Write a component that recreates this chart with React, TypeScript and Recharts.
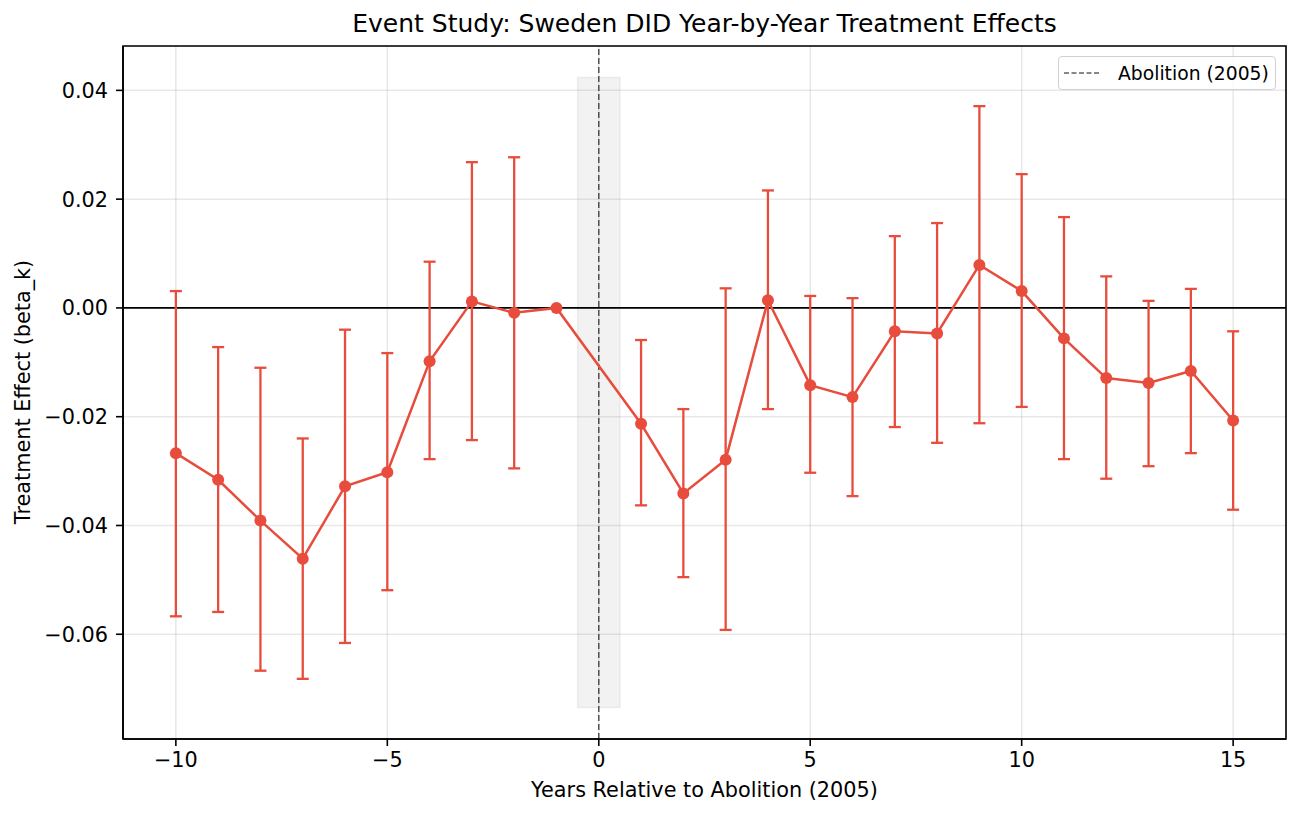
import React from 'react';
import {
  ComposedChart, Line, ErrorBar, XAxis, YAxis, CartesianGrid,
  ReferenceArea, ReferenceLine,
} from 'recharts';

const years = [-10, -9, -8, -7, -6, -5, -4, -3, -2, -1, 1, 2, 3, 4, 5, 6, 7, 8, 9, 10, 11, 12, 13, 14, 15];
const beta = [
  -0.0267, -0.0316, -0.0391, -0.0461, -0.0328, -0.0302, -0.0098, 0.0012, -0.0009, 0.0,
  -0.0213, -0.0341, -0.0279, 0.0014, -0.0142, -0.0164, -0.0043, -0.0047, 0.0079, 0.0031,
  -0.0056, -0.0129, -0.0138, -0.0116, -0.0207,
];
const ciLower = [
  -0.0567, -0.0559, -0.0667, -0.0682, -0.0616, -0.0519, -0.0278, -0.0243, -0.0295, null,
  -0.0363, -0.0495, -0.0592, -0.0186, -0.0303, -0.0346, -0.0219, -0.0248, -0.0212, -0.0182,
  -0.0278, -0.0314, -0.0291, -0.0267, -0.0371,
];
const ciUpper = [
  0.0031, -0.0072, -0.0110, -0.0240, -0.0040, -0.0083, 0.0085, 0.0268, 0.0277, null,
  -0.0059, -0.0186, 0.0036, 0.0216, 0.0022, 0.0018, 0.0132, 0.0156, 0.0371, 0.0246,
  0.0167, 0.0058, 0.0013, 0.0035, -0.0043,
];
const xTicks = [-10, -5, 0, 5, 10, 15];
const yTicks = [-0.06, -0.04, -0.02, 0, 0.02, 0.04];

const RED = '#e74c3c';
const FONT = '"DejaVu Sans", sans-serif';

const data = years.map((k, i) => ({
  k,
  beta: beta[i],
  err: ciLower[i] == null ? null : [beta[i] - (ciLower[i] as number), (ciUpper[i] as number) - beta[i]],
}));

const lows = ciLower.filter((v) => v != null) as number[];
const highs = ciUpper.filter((v) => v != null) as number[];
const lo = Math.min(...lows);
const hi = Math.max(...highs);
const pad1 = 0.05 * (hi - lo);
const shadeLo = lo - pad1;
const shadeHi = hi + pad1;
const pad2 = 0.05 * (shadeHi - shadeLo);
const yDomain: [number, number] = [shadeLo - pad2, shadeHi + pad2];
const xPad = 0.05 * (years[years.length - 1] - years[0]);
const xDomain: [number, number] = [years[0] - xPad, years[years.length - 1] + xPad];

const fmt = (v: number, d: number) => (v < 0 ? '\u2212' : '') + Math.abs(v).toFixed(d);

const LegendBox = () => (
  <div
    style={{
      position: 'absolute',
      left: 1058,
      top: 56,
      boxSizing: 'border-box',
      width: 218,
      height: 34,
      border: '1px solid #d0d0d0',
      borderRadius: 4,
      background: 'rgba(255,255,255,0.8)',
      display: 'flex',
      alignItems: 'center',
      fontFamily: FONT,
      fontSize: 18.75,
      color: '#000',
    }}
  >
    <svg width={59} height={20} style={{ flex: 'none' }}>
      <line x1={5} y1={10} x2={42} y2={10} stroke="#444" strokeOpacity={0.85} strokeWidth={1.5} strokeDasharray="5 2.5" />
    </svg>
    <span style={{ whiteSpace: 'nowrap' }}>Abolition (2005)</span>
  </div>
);

export default function App() {
  return (
    <div style={{ position: 'absolute', left: 0, top: 0, width: 1300, height: 817, background: '#fff', fontFamily: FONT }}>
      <div
        style={{
          position: 'absolute', left: 123, width: 1163, top: 9, textAlign: 'center',
          fontSize: 25, lineHeight: '30px', color: '#000', whiteSpace: 'nowrap',
        }}
      >
        Event Study: Sweden DID Year-by-Year Treatment Effects
      </div>
      <div
        style={{
          position: 'absolute', left: 123, width: 1163, top: 777, textAlign: 'center',
          fontSize: 20.8, lineHeight: '26px', color: '#000', whiteSpace: 'nowrap',
        }}
      >
        Years Relative to Abolition (2005)
      </div>
      <div
        style={{
          position: 'absolute', left: 23 - 200, top: 392 - 13, width: 400, height: 26, textAlign: 'center',
          fontSize: 20.8, lineHeight: '26px', color: '#000', whiteSpace: 'nowrap',
          transform: 'rotate(-90deg)', transformOrigin: '200px 13px',
        }}
      >
        Treatment Effect (beta_k)
      </div>
      <div style={{ position: 'absolute', left: 0, top: 0 }}>
        <ComposedChart width={1300} height={817} data={data} margin={{ top: 46, right: 14, bottom: 38, left: 0 }}>
          <CartesianGrid stroke="#b3b3b3" strokeOpacity={0.3} strokeWidth={1.5} />
          <XAxis
            dataKey="k"
            type="number"
            domain={xDomain}
            ticks={xTicks}
            allowDataOverflow
            height={40}
            tickFormatter={(v) => fmt(v, 0)}
            tick={{ fill: '#000', fontSize: 20.8, fontFamily: FONT }}
            tickSize={7}
            tickMargin={6}
            axisLine={{ stroke: '#000', strokeWidth: 1.6 }}
            tickLine={{ stroke: '#000', strokeWidth: 1.6 }}
          />
          <YAxis
            type="number"
            domain={yDomain}
            ticks={yTicks}
            allowDataOverflow
            width={123}
            tickFormatter={(v) => fmt(v, 2)}
            tick={{ fill: '#000', fontSize: 20.8, fontFamily: FONT }}
            tickSize={7}
            tickMargin={8}
            axisLine={{ stroke: '#000', strokeWidth: 1.6 }}
            tickLine={{ stroke: '#000', strokeWidth: 1.6 }}
          />
          <ReferenceArea
            x1={-0.5}
            x2={0.5}
            y1={shadeLo}
            y2={shadeHi}
            fill="#808080"
            fillOpacity={0.1}
            stroke="#808080"
            strokeOpacity={0.12}
            strokeWidth={1.5}
            ifOverflow="visible"
          />
          <ReferenceLine y={0} stroke="#000" strokeWidth={1.6} ifOverflow="visible" />
          <ReferenceLine x={0} stroke="#404040" strokeOpacity={0.9} strokeWidth={1.5} strokeDasharray="6 3" ifOverflow="visible" />
          <Line
            dataKey="beta"
            stroke={RED}
            strokeWidth={2.5}
            dot={{ r: 6, fill: RED, stroke: RED, strokeWidth: 0 }}
            activeDot={false}
            isAnimationActive={false}
          >
            <ErrorBar dataKey="err" direction="y" width={6} stroke={RED} strokeWidth={2.3} isAnimationActive={false} />
          </Line>
          <ReferenceArea
            x1={xDomain[0]}
            x2={xDomain[1]}
            y1={yDomain[0]}
            y2={yDomain[1]}
            fill="none"
            stroke="#000"
            strokeWidth={1.6}
            ifOverflow="visible"
          />
        </ComposedChart>
      </div>
      <LegendBox />
    </div>
  );
}
